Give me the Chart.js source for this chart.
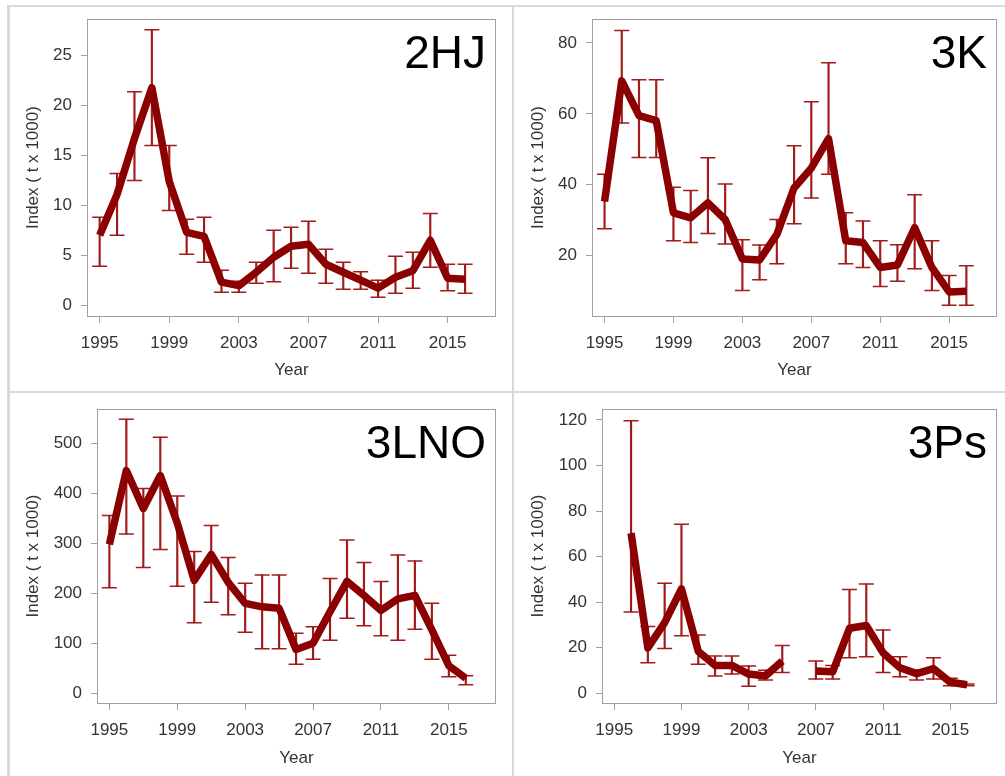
<!DOCTYPE html>
<html><head><meta charset="utf-8">
<script src="https://cdn.jsdelivr.net/npm/chart.js@4.4.1/dist/chart.umd.min.js"></script>
<style>
html,body{margin:0;padding:0;background:#fff;width:1005px;height:776px;overflow:hidden;}
.c{position:absolute;}
.ln{position:absolute;background:#d9d9d9;}
</style></head><body>
<div class="ln" style="left:7px;top:5px;width:3px;height:771px"></div>
<div class="ln" style="left:7px;top:5px;width:998px;height:2px"></div>
<div class="ln" style="left:512px;top:5px;width:2px;height:771px"></div>
<div class="ln" style="left:7px;top:391px;width:998px;height:2px"></div>
<div class="c" style="left:0;top:0;width:505px;height:390px"><canvas id="c1"></canvas></div>
<div class="c" style="left:505px;top:0;width:500px;height:390px"><canvas id="c2"></canvas></div>
<div class="c" style="left:0;top:390px;width:505px;height:386px"><canvas id="c3"></canvas></div>
<div class="c" style="left:505px;top:390px;width:500px;height:386px"><canvas id="c4"></canvas></div>
<script>
const years = [1995,1996,1997,1998,1999,2000,2001,2002,2003,2004,2005,2006,2007,2008,2009,2010,2011,2012,2013,2014,2015,2016];
const xTicks = [1995,1999,2003,2007,2011,2015];

const idx2HJ = [7.0,11.1,16.7,21.8,12.4,7.3,6.9,2.3,1.95,3.3,4.8,5.9,6.1,4.1,3.3,2.5,1.7,2.8,3.45,6.5,2.7,2.6];
const lo2HJ  = [3.9,7.0,12.5,16.0,9.5,5.1,4.3,1.3,1.3,2.2,2.35,3.7,3.2,2.2,1.6,1.6,0.8,1.2,1.7,3.8,1.45,1.2];
const hi2HJ  = [8.8,13.2,21.4,27.6,16.0,8.6,8.8,3.5,2.4,4.3,7.5,7.8,8.4,5.6,4.3,3.35,2.5,4.9,5.3,9.2,4.1,4.1];
const yTicks2HJ = [0,5,10,15,20,25];

const idx3K = [35.3,69.3,59.5,58.1,32.1,30.7,34.9,30.2,19.1,18.8,26.0,39.1,44.7,53.0,24.2,23.7,16.7,17.4,27.9,16.7,9.8,10.0];
const lo3K  = [27.6,57.4,47.7,47.7,24.2,23.7,26.3,23.3,10.2,13.2,17.7,29.0,36.3,43.0,17.7,16.7,11.3,12.8,16.3,10.2,6.0,6.0];
const hi3K  = [43.0,83.5,69.6,69.6,39.3,38.4,47.6,40.2,24.5,23.0,30.2,51.0,63.4,74.4,32.1,29.8,24.2,23.1,37.2,24.2,14.4,17.2];
const yTicks3K = [20,40,60,80];

const idx3LNO = [298,446,370,436,341,226,278,222,180,173,170,87.5,100,163,224,196,166,189,196,127,55,30];
const lo3LNO  = [211,319,252,288,214,141,182,157,122,89,89,58,68,106,150,135,115,106,128,68,33,17];
const hi3LNO  = [356,549,410,513,395,284,336,272,220,237,237,120,133,230,307,262,224,277,265,180,76,35];
const yTicks3LNO = [0,100,200,300,400,500];

const idx3Ps = [null,70.3,19.9,31,45.8,18.4,12.2,12.2,8.4,7.6,14.1,null,9.8,9.4,28.5,29.7,17.7,11.2,8.6,10.8,4.8,3.7];
const lo3Ps  = [null,35.7,13.4,19.6,25.2,12.7,7.6,8.4,3.0,5.8,9.1,null,6.2,6.2,15.6,16.0,9.1,7.2,5.8,6.2,3.3,3.3];
const hi3Ps  = [null,119.6,29.3,48.3,74.2,25.6,16.3,16.3,12.0,10.1,21.0,null,14.1,12.2,45.5,48.0,27.8,16.0,10.1,15.6,6.6,4.0];
const yTicks3Ps = [0,20,40,60,80,100,120];

const FONT = '"Liberation Sans", Arial, sans-serif';
const LINE = '#8b0000';
const ERR = '#a31a1a';
const AXIS = '#a0a0a0';
const TXT = '#333333';

const frame = {
  id: 'frame',
  beforeDatasetsDraw(chart) {
    const {ctx, chartArea: a} = chart;
    ctx.save();
    ctx.strokeStyle = AXIS; ctx.lineWidth = 1;
    ctx.strokeRect(Math.round(a.left) - 0.5, Math.round(a.top) + 0.5, Math.round(a.right - a.left) + 1, Math.round(a.bottom - a.top));
    ctx.restore();
  }
};
const panelLabel = {
  id: 'panelLabel',
  afterDatasetsDraw(chart, args, opts) {
    const {ctx, chartArea: a} = chart;
    ctx.save();
    ctx.font = '46px ' + FONT;
    ctx.fillStyle = '#000';
    ctx.textAlign = 'right';
    ctx.textBaseline = 'alphabetic';
    ctx.fillText(opts.text, a.right - 9, a.top + 49);
    ctx.restore();
  }
};

function makeChart(id, label, vals, lo, hi, yTicks, ymin, ymax, L) {
  const linePts = years.map((y, i) => ({x: y, y: vals[i]}));
  const bars = [], caps = [];
  years.forEach((y, i) => {
    if (lo[i] == null) return;
    bars.push({x: y, y: [lo[i], hi[i]]});
    caps.push({x: y, y: lo[i]});
    caps.push({x: y, y: hi[i]});
  });
  new Chart(document.getElementById(id), {
    type: 'line',
    data: {
      datasets: [
        {type: 'line', data: linePts, borderColor: LINE, borderWidth: 7.5, pointRadius: 0, fill: false,
         spanGaps: false, tension: 0, borderJoinStyle: 'round', borderCapStyle: 'butt', order: 0},
        {type: 'bar', data: bars, backgroundColor: ERR, borderWidth: 0, barThickness: 1.5, order: 2},
        {type: 'line', data: caps, showLine: false, pointStyle: 'line', pointRadius: 7.5,
         pointBorderWidth: 1.5, pointBorderColor: ERR, pointBackgroundColor: ERR, order: 1}
      ]
    },
    options: {
      responsive: true, maintainAspectRatio: false, animation: false,
      layout: {padding: {top: L.top, right: L.right, left: 0, bottom: 0}},
      plugins: {legend: {display: false}, tooltip: {enabled: false}, panelLabel: {text: label}},
      scales: {
        x: {
          type: 'linear', min: 1994.33, max: 2017.72, offset: false,
          afterBuildTicks: s => { s.ticks = xTicks.map(v => ({value: v})); },
          afterFit: s => { s.height = L.xh; },
          grid: {offset: false, drawOnChartArea: false, drawTicks: true, tickLength: 7, color: AXIS},
          border: {display: false},
          ticks: {callback: v => String(v), font: {family: FONT, size: 17}, color: TXT, padding: 10, maxRotation: 0, autoSkip: false},
          title: {display: true, text: 'Year', font: {family: FONT, size: 17}, color: TXT, padding: {top: 0, bottom: L.tb}}
        },
        y: {
          type: 'linear', min: ymin, max: ymax,
          afterBuildTicks: s => { s.ticks = yTicks.map(v => ({value: v})); },
          afterFit: s => { s.width = L.yw; },
          grid: {offset: false, drawOnChartArea: false, drawTicks: true, tickLength: 7, color: AXIS},
          border: {display: false},
          ticks: {callback: v => String(v), font: {family: FONT, size: 17}, color: TXT, padding: 9},
          title: {display: true, text: 'Index ( t x 1000)', font: {family: FONT, size: 17}, color: TXT, padding: {top: 23, bottom: 0}}
        }
      }
    },
    plugins: [frame, panelLabel]
  });
}

makeChart('c1', '2HJ', idx2HJ, lo2HJ, hi2HJ, yTicks2HJ, -1.09, 28.67, {top: 16, right: 10, xh: 74, yw: 88, tb: 9});
makeChart('c2', '3K', idx3K, lo3K, hi3K, yTicks3K, 3.0, 86.7, {top: 16, right: 5, xh: 74, yw: 88, tb: 9});
makeChart('c3', '3LNO', idx3LNO, lo3LNO, hi3LNO, yTicks3LNO, -19.7, 569, {top: 14, right: 10, xh: 73, yw: 98, tb: 7});
makeChart('c4', '3Ps', idx3Ps, lo3Ps, hi3Ps, yTicks3Ps, -4.3, 124.7, {top: 14, right: 5, xh: 73, yw: 98, tb: 7});
</script>
</body></html>
